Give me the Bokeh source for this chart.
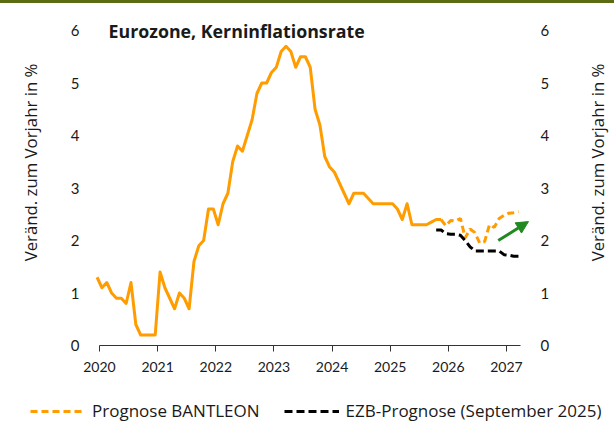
import math
from bokeh.plotting import figure
from bokeh.models import (FixedTicker, LinearAxis, Legend, LegendItem, Label,
                          Arrow, NormalHead, Div, Range1d)
from bokeh.layouts import column
from bokeh.embed import file_html
from bokeh.resources import INLINE

# ---------------- data ----------------
# Eurozone core inflation (% y/y), monthly, starting Dec 2019
actual_start = (2019, 12)
actual = [
    1.3,
    1.1, 1.2, 1.0, 0.9, 0.9, 0.8, 1.2, 0.4, 0.2, 0.2, 0.2, 0.2,
    1.4, 1.1, 0.9, 0.7, 1.0, 0.9, 0.7, 1.6, 1.9, 2.0, 2.6, 2.6,
    2.3, 2.7, 2.9, 3.5, 3.8, 3.7, 4.0, 4.3, 4.8, 5.0, 5.0, 5.2,
    5.3, 5.6, 5.7, 5.6, 5.3, 5.5, 5.5, 5.3, 4.5, 4.2, 3.6, 3.4,
    3.3, 3.1, 2.9, 2.7, 2.9, 2.9, 2.9, 2.8, 2.7, 2.7, 2.7, 2.7,
    2.7, 2.6, 2.4, 2.7, 2.3, 2.3, 2.3, 2.3, 2.35, 2.4, 2.4,
]
# BANTLEON forecast, monthly from Nov 2025
bantleon_start = (2025, 11)
bantleon = [2.4, 2.28, 2.38, 2.37, 2.42, 2.05, 2.22, 2.15, 1.95, 1.98,
            2.3, 2.25, 2.42, 2.48, 2.52, 2.53, 2.55]
# ECB staff projection (September 2025), monthly from Oct 2025
ecb_start = (2025, 10)
ecb = [2.2, 2.2, 2.13, 2.12, 2.12, 2.1, 2.0, 1.88, 1.8, 1.8, 1.8, 1.8,
       1.8, 1.8, 1.73, 1.72, 1.7, 1.7]

year_ticks = [2020, 2021, 2022, 2023, 2024, 2025, 2026, 2027]
y_ticks = [0, 1, 2, 3, 4, 5, 6]

title_text = "Eurozone, Kerninflationsrate"
axis_text = "Veränd. zum Vorjahr in %"
legend_labels = ["Prognose BANTLEON", "EZB-Prognose (September 2025)"]


def month_x(start, n):
    y0, m0 = start
    out = []
    for i in range(n):
        k = (m0 - 1) + i
        out.append(y0 + k // 12 + ((k % 12) + 0.5) / 12.0)
    return out


# ---------------- style ----------------
TICK_FONT = "Lato"
FONT = "Open Sans"
ORANGE = "#FF9C00"
BLACK = "#000000"
GREEN = "#1F8A1F"
TXT = "#1a1a1a"
OLIVE = "#5A6B12"
DASH_B = "7 4"
DASH_E = "8 4"

W, H = 612, 425
PX_YR = 58.13          # pixels per year
PX_UNIT = 52.5         # pixels per percentage point
X0_PX = 99             # pixel position of 2020
Y0_PX = 342            # pixel position of 0 %
x_lo = 2020 - X0_PX / PX_YR
x_hi = 2020 + (W - X0_PX) / PX_YR
y_hi = Y0_PX / PX_UNIT
y_lo = -(H - Y0_PX) / PX_UNIT

p = figure(width=W, height=H,
           x_range=Range1d(x_lo, x_hi), y_range=Range1d(y_lo, y_hi),
           output_backend="svg", toolbar_location=None,
           x_axis_location=None, y_axis_location=None, min_border=0)
p.grid.visible = False
p.outline_line_color = None
p.background_fill_color = "white"
p.border_fill_color = "white"

# x axis (fixed at y = 0)
xa = LinearAxis(ticker=FixedTicker(ticks=year_ticks), fixed_location=0,
                bounds=(2020, 2027.25))
xa.axis_line_color = "#333333"
xa.major_tick_line_color = "#333333"
xa.major_tick_out = 6
xa.major_tick_in = 0
xa.minor_tick_line_color = None
xa.major_label_standoff = 10
xa.major_label_text_font = TICK_FONT
xa.major_label_text_font_size = "14px"
xa.major_label_text_color = TXT
p.add_layout(xa, "below")


def y_axis(loc, standoff):
    ax = LinearAxis(ticker=FixedTicker(ticks=y_ticks), fixed_location=loc)
    ax.axis_line_color = None
    ax.major_tick_line_color = None
    ax.minor_tick_line_color = None
    ax.major_tick_out = 0
    ax.major_tick_in = 0
    ax.major_label_standoff = standoff
    ax.major_label_text_font = TICK_FONT
    ax.major_label_text_font_size = "15px"
    ax.major_label_text_color = TXT
    return ax


p.add_layout(y_axis(2020, 20), "left")
p.add_layout(y_axis(2027.449, 8), "right")

# lines
p.line(month_x(actual_start, len(actual)), actual, line_color=ORANGE,
       line_width=3, line_join="round")
r_b = p.line(month_x(bantleon_start, len(bantleon)), bantleon,
             line_color=ORANGE, line_width=3, line_dash=DASH_B)
r_e = p.line(month_x(ecb_start, len(ecb)), ecb, line_color=BLACK,
             line_width=3, line_dash=DASH_E)

# arrow
p.add_layout(Arrow(end=NormalHead(size=12, fill_color=GREEN, line_color=GREEN),
                   x_start=2026.86, y_start=2.0, x_end=2027.38, y_end=2.36,
                   line_color=GREEN, line_width=3))

# title inside chart
p.add_layout(Label(x=2020.155, y=6, text=title_text, text_font=FONT,
                   text_font_style="bold", text_font_size="17.8px",
                   text_color=TXT, text_baseline="middle", text_align="left"))

# axis titles (left and right)
for xpos in (2020 + (30 - X0_PX) / PX_YR, 2020 + (597 - X0_PX) / PX_YR):
    p.add_layout(Label(x=xpos, y=3.486, text=axis_text, angle=math.pi / 2,
                       text_font=FONT, text_font_size="16.8px", text_color=TXT,
                       text_align="center", text_baseline="middle"))

legend = Legend(items=[LegendItem(label=legend_labels[0], renderers=[r_b]),
                       LegendItem(label=legend_labels[1], renderers=[r_e])],
                orientation="horizontal", location=(30, 6),
                glyph_width=55, glyph_height=20, label_standoff=7, spacing=24,
                padding=0, margin=0, border_line_color=None,
                background_fill_alpha=0, label_text_font=FONT,
                label_text_font_size="17px", label_text_color=TXT)
p.add_layout(legend)

top_line = Div(text="", width=614, height=3, margin=0,
               styles={"background-color": OLIVE})
root = column(top_line, p, spacing=0,
              styles={"position": "absolute", "left": "0px", "top": "0px"})

open("out.html", "w").write(file_html(root, INLINE))
